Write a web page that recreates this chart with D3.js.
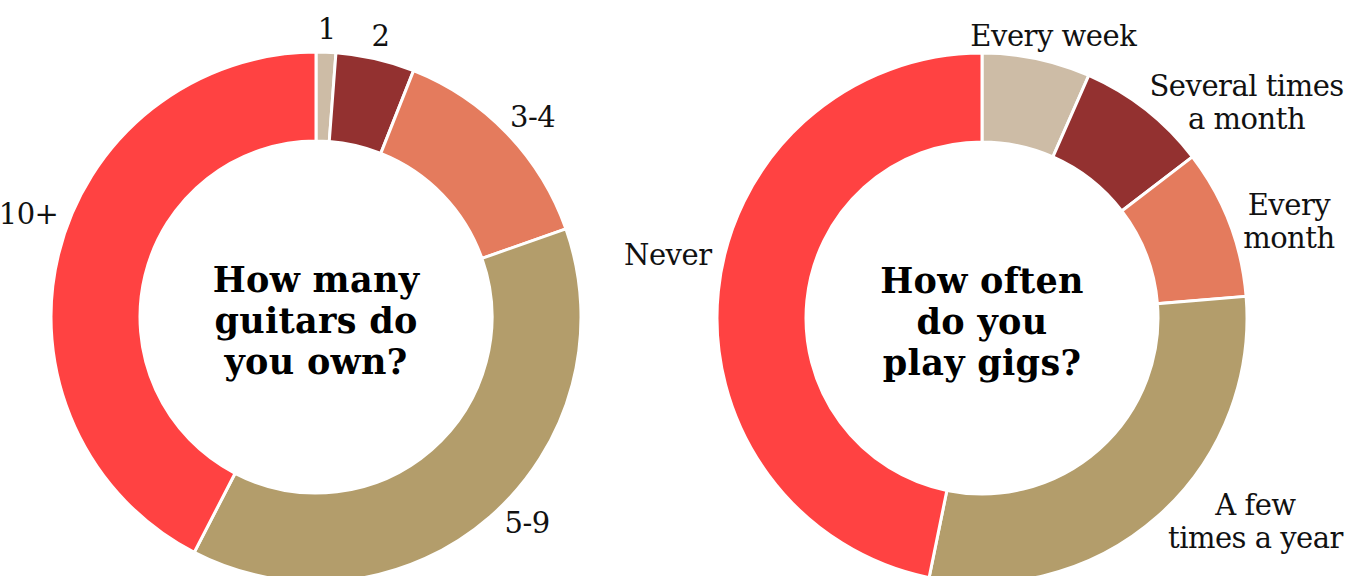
<!DOCTYPE html>
<html lang="en">
<head>
<meta charset="UTF-8">
<title>Guitar survey</title>
<script src="https://d3js.org/d3.v7.min.js"></script>
<style>
  body { margin: 0; background: #fff; }
  svg { display: block; }
  .label { font-family: "DejaVu Serif", serif; font-size: 29px; letter-spacing: -0.5px; fill: #111; }
  .title { font-family: "DejaVu Serif", serif; font-weight: bold; font-size: 35px; letter-spacing: 0.3px; fill: #000; }
</style>
</head>
<body>
<svg id="chart" width="1365" height="576"></svg>
<script>
const guitarLabels = ["1", "2", "3-4", "5-9", "10+"];
const guitarValues = [1.2, 4.8, 13.6, 38, 42.4];
const guitarTitle = ["How many", "guitars do", "you own?"];

const gigLabels = ["Every week", "Several times\na month", "Every\nmonth", "A few\ntimes a year", "Never"];
const gigValues = [6.6, 8, 9.1, 29.5, 46.8];
const gigTitle = ["How often", "do you", "play gigs?"];

const sliceColors = ["#cdbca6", "#933130", "#e47b5d", "#b39d6b", "#ff4242"];

// small angle nudges (degrees) so labels sit where the original has them
const guitarNudge = [0, 0, 0, -3.6, 7.3];
const gigNudge = [-0.5, 6.7, 2.5, -6.8, 6.9];

const svg = d3.select("#chart");
const outerR = 265, innerR = 176;
const lineH = 33, capH = 21;

function drawDonut(cx, cy, labels, values, title, nudge) {
    const g = svg.append("g").attr("transform", `translate(${cx},${cy})`);

    const pie = d3.pie().sort(null).value(d => d);
    const arcs = pie(values);
    const arc = d3.arc().innerRadius(innerR).outerRadius(outerR);

    g.selectAll("path")
        .data(arcs)
        .enter().append("path")
        .attr("d", arc)
        .attr("fill", (d, i) => sliceColors[i])
        .attr("stroke", "#fff")
        .attr("stroke-width", 3);

    // outside labels, the near edge of the text block sits just off the ring
    arcs.forEach((d, i) => {
        const lines = labels[i].split("\n");
        const t = g.append("text").attr("class", "label").attr("text-anchor", "middle");
        lines.forEach((l, j) => {
            t.append("tspan").attr("x", 0).attr("y", j * lineH).text(l);
        });
        const w = t.node().getBBox().width;
        const h = (lines.length - 1) * lineH + capH;
        const a = (d.startAngle + d.endAngle) / 2 + nudge[i] * Math.PI / 180;
        const r = outerR + 13;
        const x = Math.sin(a) * r + Math.sin(a) * w / 2;
        const y = -Math.cos(a) * r - Math.cos(a) * h / 2;
        // text block centre (relative to first baseline) is at (0, -capH + h/2)
        t.attr("transform", `translate(${x},${y + capH - h / 2})`);
    });

    const tt = g.append("text").attr("class", "title").attr("text-anchor", "middle");
    title.forEach((l, j) => {
        tt.append("tspan").attr("x", 0).attr("y", -25 + j * 41).text(l);
    });
}

drawDonut(316, 317, guitarLabels, guitarValues, guitarTitle, guitarNudge);
drawDonut(982, 318, gigLabels, gigValues, gigTitle, gigNudge);
</script>
</body>
</html>
